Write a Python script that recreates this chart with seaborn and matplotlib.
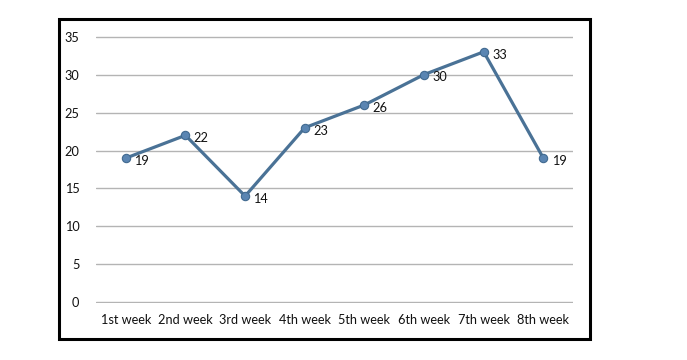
import matplotlib
matplotlib.use('Agg')
import matplotlib.pyplot as plt
import seaborn as sns
from matplotlib.patches import Rectangle

weeks = ['1st week', '2nd week', '3rd week', '4th week',
         '5th week', '6th week', '7th week', '8th week']
values = [19, 22, 14, 23, 26, 30, 33, 19]
y_ticks = [0, 5, 10, 15, 20, 25, 30, 35]

sns.set_style('white')
plt.rcParams['font.family'] = ['Lato', 'DejaVu Sans']

fig = plt.figure(figsize=(6.87, 3.6), dpi=100)
ax = fig.add_axes([0.1397, 0.1583, 0.6946, 0.7417])

# outer chart frame
fig.patches.append(Rectangle((0.0859, 0.0583), 0.7729, 0.8889,
                             transform=fig.transFigure, fill=False,
                             edgecolor='black', linewidth=2.2, zorder=0))

sns.lineplot(x=weeks, y=values, ax=ax, color='#4a7296', linewidth=2.3,
             marker='o', markersize=6, markerfacecolor='#5a85b2',
             markeredgecolor='#416a90', markeredgewidth=0.8, sort=False)

for i, v in enumerate(values):
    ax.annotate(str(v), (i, v), xytext=(6, -2), textcoords='offset points',
                ha='left', va='center', fontsize=9.2, color='#111111')

ax.set_xlim(-0.5, len(weeks) - 0.5)
ax.set_ylim(-0.08, 35.08)
ax.set_yticks(y_ticks)
ax.yaxis.grid(True, color='#b4b4b4', linewidth=1)
ax.xaxis.grid(False)
for s in ax.spines.values():
    s.set_visible(False)
ax.tick_params(axis='both', length=0, labelsize=9.2, colors='#111111')
ax.tick_params(axis='y', pad=12)
ax.tick_params(axis='x', pad=8)
ax.set_xlabel('')
ax.set_ylabel('')

fig.savefig('out.png', dpi=100)
